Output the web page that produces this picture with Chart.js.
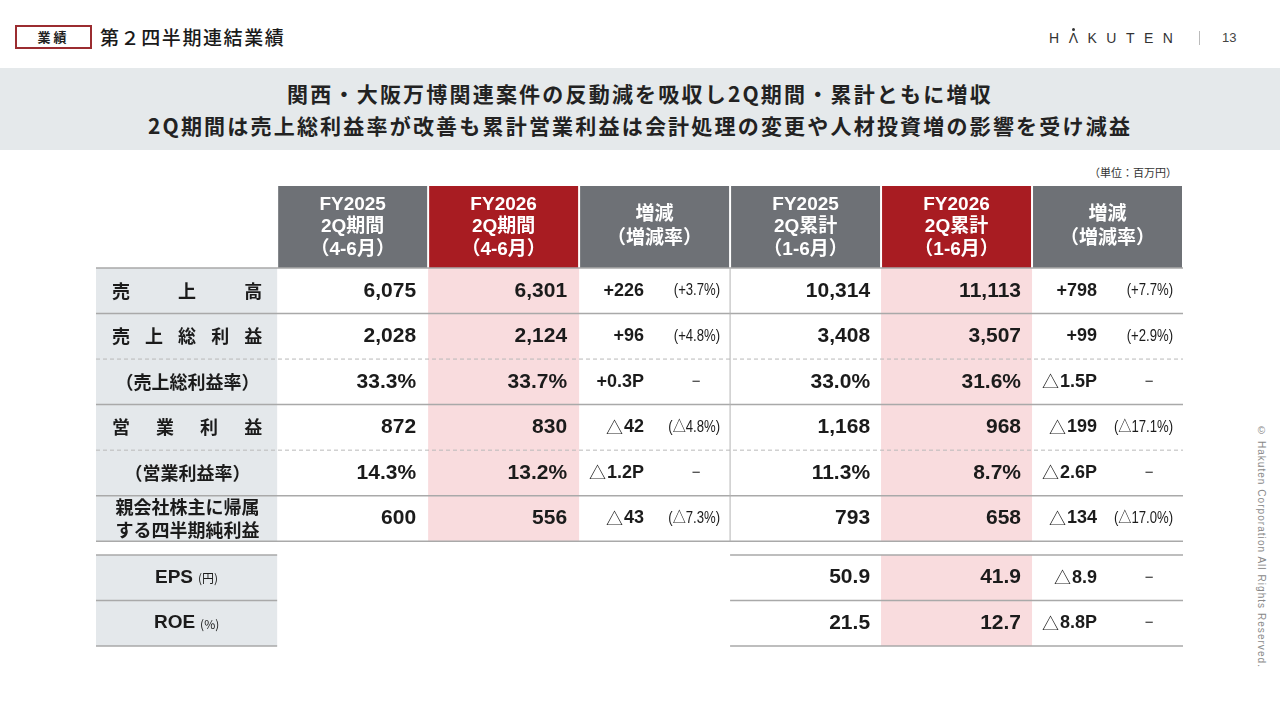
<!DOCTYPE html>
<html lang="ja">
<head>
<meta charset="utf-8">
<script src="https://cdn.jsdelivr.net/npm/chart.js@4.4.1/dist/chart.umd.min.js"></script>
<style>
html, body { margin: 0; padding: 0; background: #fff; }
body { width: 1280px; height: 720px; position: relative; overflow: hidden; font-family: 'Noto Sans CJK JP', sans-serif; color: #222; }
.tag { position: absolute; left: 15px; top: 25px; width: 73px; height: 20px; border: 2px solid #9b2c30; font-size: 13px; font-weight: 700; text-align: center; line-height: 20px; letter-spacing: 3px; }
.page-title { position: absolute; left: 100px; top: 24px; font-size: 19px; font-weight: 500; letter-spacing: 1.6px; line-height: 26px; color: #1a1a1a; }
.logo { position: absolute; left: 1049px; top: 30px; font-family: 'Liberation Sans', sans-serif; font-size: 14px; letter-spacing: 9.5px; color: #333; line-height: 16px; }
.logo .a { position: relative; }
.logo .a:after { content: ''; position: absolute; left: 3px; top: -2px; width: 3px; height: 3px; border-radius: 50%; background: #333; }
.sep { position: absolute; left: 1199px; top: 31px; width: 1px; height: 14px; background: #bbb; }
.pno { position: absolute; left: 1222px; top: 31px; font-family: 'Liberation Sans', sans-serif; font-size: 13px; color: #444; line-height: 14px; }
.band { position: absolute; left: 0; top: 68px; width: 1280px; height: 82px; background: #e5e9eb; }
.band div { position: absolute; left: 0; width: 1280px; text-align: center; font-size: 21px; font-weight: 700; letter-spacing: 2.2px; line-height: 30px; color: #222; }
.unit { position: absolute; right: 103px; top: 164px; font-size: 11px; line-height: 16px; color: #333; }
#wrap { position: absolute; left: 96px; top: 186px; width: 1087px; height: 463px; }
.copy { position: absolute; left: 1256px; top: 425px; writing-mode: vertical-rl; font-family: 'Liberation Sans', sans-serif; font-size: 10px; letter-spacing: 1.05px; color: #888; }
</style>
</head>
<body>
<div class="tag">業績</div>
<div class="page-title">第２四半期連結業績</div>
<div class="logo">H<span class="a">Λ</span>KUTEN</div>
<div class="sep"></div>
<div class="pno">13</div>
<div class="band">
  <div style="top:10px">関西・大阪万博関連案件の反動減を吸収し2Q期間・累計ともに増収</div>
  <div style="top:42px">2Q期間は売上総利益率が改善も累計営業利益は会計処理の変更や人材投資増の影響を受け減益</div>
</div>
<div class="unit">（単位：百万円）</div>
<div id="wrap"><canvas id="table"></canvas></div>
<div class="copy">© Hakuten Corporation All Rights Reserved.</div>

<script>
// column headers
var headerLines = [
    ['FY2025', '2Q期間', '（4-6月）'],
    ['FY2026', '2Q期間', '（4-6月）'],
    ['増減', '（増減率）'],
    ['FY2025', '2Q累計', '（1-6月）'],
    ['FY2026', '2Q累計', '（1-6月）'],
    ['増減', '（増減率）']
];

// rows
var rowLabels = ['売上高', '売上総利益', '（売上総利益率）', '営業利益', '（営業利益率）', '親会社株主に帰属\nする四半期純利益'];
var rowIsRate = [false, false, true, false, true, false];

// 2Q period (4-6)
var q2025 = [6075, 2028, 33.3, 872, 14.3, 600];
var q2026 = [6301, 2124, 33.7, 830, 13.2, 556];
var qDiff = [226, 96, 0.3, -42, -1.2, -43];
var qDiffRate = [3.7, 4.8, null, -4.8, null, -7.3];

// 2Q cumulative (1-6)
var h2025 = [10314, 3408, 33.0, 1168, 11.3, 793];
var h2026 = [11113, 3507, 31.6, 968, 8.7, 658];
var hDiff = [798, 99, -1.5, -199, -2.6, -134];
var hDiffRate = [7.7, 2.9, null, -17.1, null, -17.0];

// EPS / ROE (cumulative only)
var extraLabels = ['EPS', 'ROE'];
var extraUnits = ['(円)', '(%)'];
var extra2025 = [50.9, 21.5];
var extra2026 = [41.9, 12.7];
var extraDiff = [-8.9, -8.8];
var extraDiffSuffix = ['', 'P'];

var ink = '#1b1b1b';
var numFont = "bold 21px 'Liberation Sans', Arial, sans-serif";
var diffFont = "bold 18px 'Liberation Sans', Arial, sans-serif";
var triFont = "17px 'Noto Sans CJK JP', sans-serif";
var pctFont = "16px 'Liberation Sans', 'Noto Sans CJK JP', sans-serif";
var labelFont = "bold 18px 'Noto Sans CJK JP', sans-serif";
var headFont = "bold 19px 'Liberation Sans', 'Noto Sans CJK JP', sans-serif";

// table grid in scale units (label column is wider)
var colEdges = [0, 1.2, 2.2, 3.2, 4.2, 5.2, 6.2, 7.2];
var headBottom = 1.8;
var extraTop = 8.1;

function fmtVal(v, rate) {
    if (rate) return v.toFixed(1) + '%';
    return Number.isInteger(v) ? v.toLocaleString('en-US') : v.toFixed(1);
}

function fmtDiff(v, rate) {
    var s = v < 0 ? '△' : '+';
    var a = Math.abs(v);
    return s + (rate ? a.toFixed(1) + 'P' : a.toLocaleString('en-US'));
}

function fmtRate(v) {
    if (v === null) return null;
    return '(' + (v < 0 ? '△' : '+') + Math.abs(v).toFixed(1) + '%)';
}

function txt(c, s, x, y, font, align, color, sx) {
    c.save();
    c.font = font;
    c.fillStyle = color || ink;
    c.textAlign = align;
    c.textBaseline = 'middle';
    c.translate(x, y);
    if (sx) c.scale(sx, 1);
    c.fillText(s, 0, 0);
    c.restore();
}

function drawDiff(c, s, xr, y) {
    var body = s, tri = false;
    if (s.charAt(0) === '△') { tri = true; body = s.slice(1); }
    c.font = diffFont;
    var w = c.measureText(body).width;
    txt(c, body, xr, y, diffFont, 'right');
    if (tri) txt(c, '△', xr - w - 1, y, triFont, 'right');
}

function drawRateCell(c, rate, x0, x1, y) {
    var r = fmtRate(rate);
    if (r) txt(c, r, x1 - 10, y, pctFont, 'right', ink, 0.82);
    else txt(c, '−', x0 + 117, y, "15px 'Liberation Sans', sans-serif", 'center');
}

function hLine(c, y, x0, x1, dashed) {
    c.save();
    c.beginPath();
    if (dashed) {
        c.setLineDash([4, 3]);
        c.strokeStyle = '#b9b9b9';
        c.lineWidth = 1;
    } else {
        c.strokeStyle = '#a9a9a9';
        c.lineWidth = 1.5;
    }
    c.moveTo(x0, y);
    c.lineTo(x1, y);
    c.stroke();
    c.restore();
}

var tablePlugin = {
    id: 'tablePlugin',
    afterDraw: function (chart) {
        var c = chart.ctx;
        var xs = chart.scales.x, ys = chart.scales.y;
        var X = function (v) { return xs.getPixelForValue(v); };
        var Y = function (v) { return ys.getPixelForValue(v); };
        var mainEnd = headBottom + rowLabels.length;
        var extraEnd = extraTop + extraLabels.length;

        // header cells
        for (var k = 1; k < colEdges.length - 1; k++) {
            var red = (k === 2 || k === 5);
            c.fillStyle = red ? '#a81c22' : '#6e7176';
            c.fillRect(X(colEdges[k]) + 1, Y(0), X(colEdges[k + 1]) - X(colEdges[k]) - 2, Y(headBottom) - Y(0));
            var lines = headerLines[k - 1];
            var cx = (X(colEdges[k]) + X(colEdges[k + 1])) / 2;
            var cy = (Y(0) + Y(headBottom)) / 2;
            var sp = lines.length === 3 ? 22.5 : 24;
            for (var i = 0; i < lines.length; i++) {
                txt(c, lines[i], cx, cy + (i - (lines.length - 1) / 2) * sp, headFont, 'center', '#fff');
            }
        }

        // body backgrounds
        c.fillStyle = '#e4e8eb';
        c.fillRect(X(0), Y(headBottom), X(colEdges[1]) - X(0), Y(mainEnd) - Y(headBottom));
        c.fillRect(X(0), Y(extraTop), X(colEdges[1]) - X(0), Y(extraEnd) - Y(extraTop));
        c.fillStyle = '#f9dcde';
        c.fillRect(X(colEdges[2]), Y(headBottom), X(colEdges[3]) - X(colEdges[2]), Y(mainEnd) - Y(headBottom));
        c.fillRect(X(colEdges[5]), Y(headBottom), X(colEdges[6]) - X(colEdges[5]), Y(mainEnd) - Y(headBottom));
        c.fillRect(X(colEdges[5]), Y(extraTop), X(colEdges[6]) - X(colEdges[5]), Y(extraEnd) - Y(extraTop));

        // rules
        for (var r = 0; r <= rowLabels.length; r++) {
            hLine(c, Y(headBottom + r), X(0), X(colEdges[7]), r < rowLabels.length && rowIsRate[r]);
        }
        for (var e = 0; e <= extraLabels.length; e++) {
            hLine(c, Y(extraTop + e), X(0), X(colEdges[1]), false);
            hLine(c, Y(extraTop + e), X(colEdges[4]), X(colEdges[7]), false);
        }
        c.save();
        c.strokeStyle = '#b3b3b3';
        c.lineWidth = 1;
        c.beginPath();
        c.moveTo(X(colEdges[4]), Y(headBottom));
        c.lineTo(X(colEdges[4]), Y(mainEnd));
        c.stroke();
        c.restore();

        // main rows
        var lx0 = X(colEdges[0]), lx1 = X(colEdges[1]);
        var lcx = (lx0 + lx1) / 2;
        for (var j = 0; j < rowLabels.length; j++) {
            var y = (Y(headBottom + j) + Y(headBottom + j + 1)) / 2;
            var lab = rowLabels[j];
            if (lab.indexOf('\n') >= 0) {
                var parts = lab.split('\n');
                txt(c, parts[0], lcx + 1, y - 11.5, labelFont, 'center');
                txt(c, parts[1], lcx + 1, y + 11.5, labelFont, 'center');
            } else if (lab.charAt(0) === '（') {
                txt(c, lab, lcx + 1, y, labelFont, 'center');
            } else {
                var chars = lab.split('');
                var a = lx0 + 25, b = lx1 - 24;
                for (var m = 0; m < chars.length; m++) {
                    txt(c, chars[m], a + (b - a) * m / (chars.length - 1), y, labelFont, 'center');
                }
            }
            var rate = rowIsRate[j];
            txt(c, fmtVal(q2025[j], rate), X(colEdges[2]) - 12, y, numFont, 'right');
            txt(c, fmtVal(q2026[j], rate), X(colEdges[3]) - 12, y, numFont, 'right');
            drawDiff(c, fmtDiff(qDiff[j], rate), X(colEdges[3]) + 65, y);
            drawRateCell(c, rate ? null : qDiffRate[j], X(colEdges[3]), X(colEdges[4]), y);
            txt(c, fmtVal(h2025[j], rate), X(colEdges[5]) - 11, y, numFont, 'right');
            txt(c, fmtVal(h2026[j], rate), X(colEdges[6]) - 11, y, numFont, 'right');
            drawDiff(c, fmtDiff(hDiff[j], rate), X(colEdges[6]) + 65, y);
            drawRateCell(c, rate ? null : hDiffRate[j], X(colEdges[6]), X(colEdges[7]), y);
        }

        // EPS / ROE
        for (var q = 0; q < extraLabels.length; q++) {
            var ey = (Y(extraTop + q) + Y(extraTop + q + 1)) / 2;
            var bf = "bold 19px 'Liberation Sans', Arial, sans-serif";
            var sf = "12px 'Noto Sans CJK JP', sans-serif";
            c.font = bf;
            var w1 = c.measureText(extraLabels[q]).width;
            c.font = sf;
            var w2 = c.measureText(extraUnits[q]).width;
            var sx = lcx - (w1 + 5 + w2) / 2;
            txt(c, extraLabels[q], sx, ey, bf, 'left');
            txt(c, extraUnits[q], sx + w1 + 5, ey + 1, sf, 'left');
            txt(c, extra2025[q].toFixed(1), X(colEdges[5]) - 11, ey, numFont, 'right');
            txt(c, extra2026[q].toFixed(1), X(colEdges[6]) - 11, ey, numFont, 'right');
            var d = extraDiff[q];
            drawDiff(c, (d < 0 ? '△' : '+') + Math.abs(d).toFixed(1) + extraDiffSuffix[q], X(colEdges[6]) + 65, ey);
            drawRateCell(c, null, X(colEdges[6]), X(colEdges[7]), ey);
        }
    }
};

var ctx = document.getElementById('table').getContext('2d');
new Chart(ctx, {
    type: 'scatter',
    data: { datasets: [] },
    options: {
        responsive: true,
        maintainAspectRatio: false,
        animation: false,
        events: [],
        layout: { padding: { top: 0, right: 0, bottom: 3, left: 0 } },
        plugins: { legend: { display: false }, tooltip: { enabled: false } },
        scales: {
            x: { type: 'linear', min: 0, max: colEdges[colEdges.length - 1], display: false },
            y: { type: 'linear', min: 0, max: extraTop + extraLabels.length, reverse: true, display: false }
        }
    },
    plugins: [tablePlugin]
});
</script>
</body>
</html>
